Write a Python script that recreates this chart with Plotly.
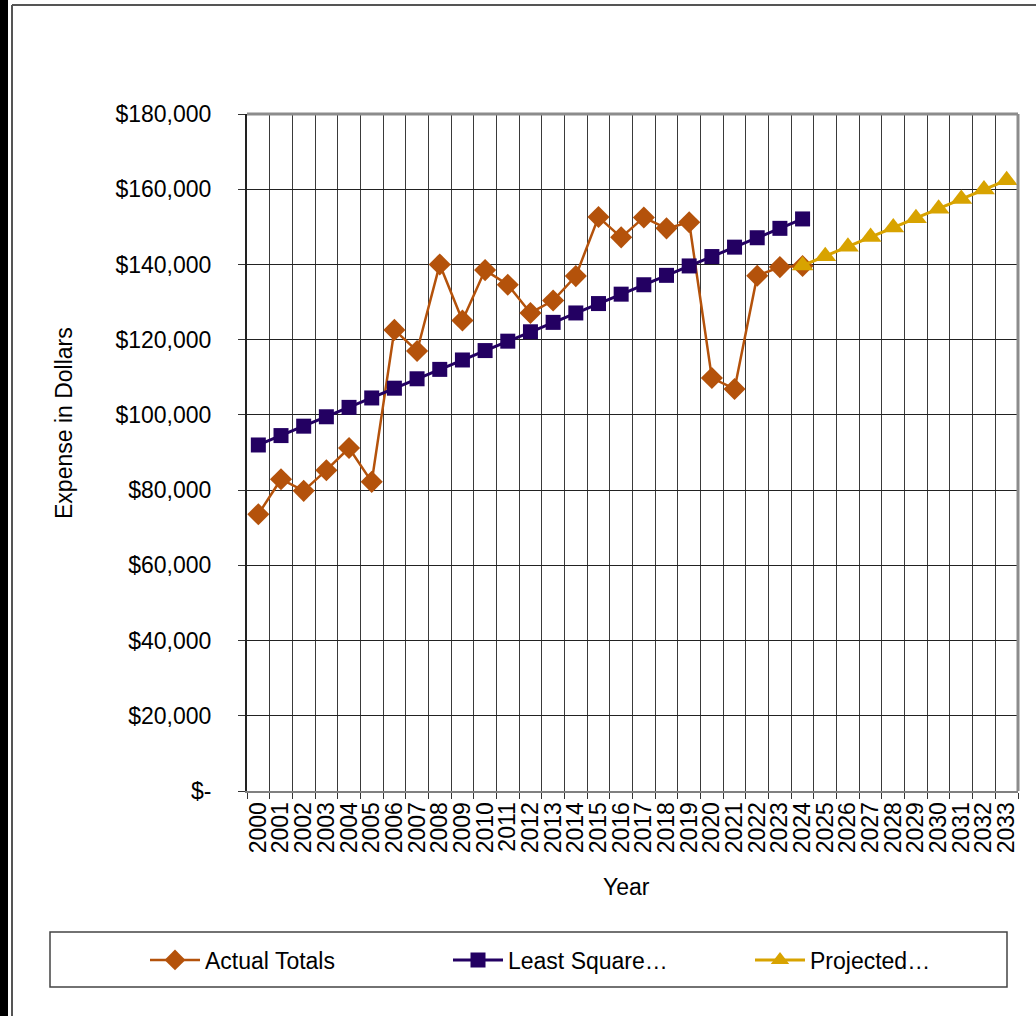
import plotly.graph_objects as go

years = ["2000", "2001", "2002", "2003", "2004", "2005", "2006", "2007", "2008", "2009",
         "2010", "2011", "2012", "2013", "2014", "2015", "2016", "2017", "2018", "2019",
         "2020", "2021", "2022", "2023", "2024", "2025", "2026", "2027", "2028", "2029",
         "2030", "2031", "2032", "2033"]

actual_years = years[:25]
actual_totals = [73600, 82900, 79800, 85300, 91200, 82200, 122600, 117000, 140000, 125100,
                 138500, 134600, 127100, 130400, 136900, 152600, 147200, 152500, 149600, 151200,
                 109800, 106900, 137000, 139300, 139600]

ls_years = years[:25]
least_squares = [92000, 94500, 97000, 99500, 102000, 104500, 107100, 109600, 112100, 114600,
                 117100, 119600, 122100, 124600, 127100, 129600, 132100, 134600, 137100, 139600,
                 142100, 144600, 147100, 149600, 152100]

proj_years = years[24:]
projected = [139700, 142200, 144700, 147300, 149800, 152300, 154800, 157400, 159900, 162400]

y_tickvals = [0, 20000, 40000, 60000, 80000, 100000, 120000, 140000, 160000, 180000]
y_ticktext = ["$-", "$20,000", "$40,000", "$60,000", "$80,000", "$100,000", "$120,000",
              "$140,000", "$160,000", "$180,000"]

ORANGE = "#B4520B"
PURPLE = "#230062"
GOLD = "#D8A300"
FONT = "Liberation Sans, Arial, sans-serif"

W, H = 1036, 1016
L, R, T, B = 247, 1018, 114, 791


def px(x):
    return (x - L) / (R - L)


def py(y):
    return (B - y) / (B - T)


fig = go.Figure()
fig.add_trace(go.Scatter(
    x=actual_years, y=actual_totals, name="Actual Totals", mode="lines+markers",
    line=dict(color=ORANGE, width=2.5),
    marker=dict(symbol="diamond", size=17, color=ORANGE), legend="legend"))
fig.add_trace(go.Scatter(
    x=ls_years, y=least_squares, name="Least Square…", mode="lines+markers",
    line=dict(color=PURPLE, width=3),
    marker=dict(symbol="square", size=15, color=PURPLE), legend="legend2"))
fig.add_trace(go.Scatter(
    x=proj_years, y=projected, name="Projected…", mode="lines+markers",
    line=dict(color=GOLD, width=3),
    marker=dict(symbol="triangle-up", size=19, color=GOLD), legend="legend3"))

shapes = [
    dict(type="rect", xref="paper", yref="paper", x0=px(0), x1=px(8), y0=py(H + 5), y1=py(-5),
         fillcolor="black", line=dict(width=0), layer="above"),
    dict(type="line", xref="paper", yref="paper", x0=px(12), x1=px(12), y0=py(5), y1=py(H + 5),
         line=dict(color="#555555", width=2)),
    dict(type="line", xref="paper", yref="paper", x0=px(12), x1=px(W + 5), y0=py(5), y1=py(5),
         line=dict(color="#555555", width=2)),
    dict(type="line", xref="paper", yref="paper", x0=0, x1=1, y0=1, y1=1,
         line=dict(color="#8c8c8c", width=3)),
    dict(type="line", xref="paper", yref="paper", x0=1, x1=1, y0=0, y1=1,
         line=dict(color="#8c8c8c", width=3)),
    dict(type="rect", xref="paper", yref="paper", x0=px(50), x1=px(1007), y0=py(987), y1=py(932),
         line=dict(color="#444444", width=1.5), fillcolor="rgba(0,0,0,0)"),
]

annotations = [
    dict(text="Expense in Dollars", xref="paper", yref="paper", x=px(64), y=py(423),
         showarrow=False, textangle=-90, font=dict(family=FONT, size=23, color="black"),
         xanchor="center", yanchor="middle"),
    dict(text="Year", xref="paper", yref="paper", x=px(626), y=py(887),
         showarrow=False, font=dict(family=FONT, size=23, color="black"),
         xanchor="center", yanchor="middle"),
]


def leg(xpix):
    return dict(orientation="h", x=px(xpix), y=py(960), xanchor="left", yanchor="middle",
                font=dict(family=FONT, size=23, color="black"), itemwidth=50,
                bgcolor="rgba(0,0,0,0)", borderwidth=0)


fig.update_layout(
    width=W, height=H,
    margin=dict(l=L, r=W - R, t=T, b=H - B, pad=0),
    paper_bgcolor="white", plot_bgcolor="white",
    font=dict(family=FONT, size=22, color="black"),
    showlegend=True,
    legend=leg(145),
    legend2=leg(448),
    legend3=leg(750),
    shapes=shapes,
    annotations=annotations,
    xaxis=dict(
        type="category", categoryorder="array", categoryarray=years,
        range=[-0.5, len(years) - 0.5],
        tickmode="linear", tick0=0, dtick=1,
        tickson="boundaries", ticks="outside", ticklen=6, tickcolor="#333333",
        showgrid=True, gridcolor="#3a3a3a", gridwidth=1,
        showline=True, linecolor="#808080", linewidth=2,
        tickangle=-90, tickfont=dict(family=FONT, size=23, color="black"),
        zeroline=False,
    ),
    yaxis=dict(
        range=[0, 180000], tickmode="array", tickvals=y_tickvals, ticktext=y_ticktext,
        ticks="outside", ticklen=7, tickcolor="#333333",
        showgrid=True, gridcolor="#222222", gridwidth=1,
        showline=True, linecolor="#222222", linewidth=2,
        tickfont=dict(family=FONT, size=23, color="black"),
        ticklabelstandoff=22, zeroline=False,
    ),
)

fig.write_html("out.html")
